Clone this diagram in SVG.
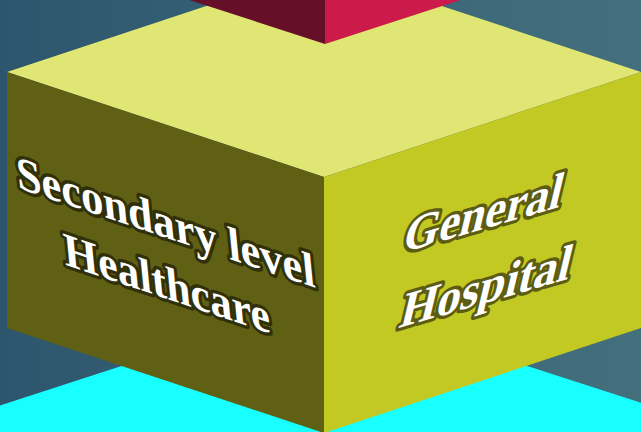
<svg xmlns="http://www.w3.org/2000/svg" width="641" height="432" viewBox="0 0 641 432">
  <defs>
    <linearGradient id="bg" x1="0" y1="0" x2="1" y2="0">
      <stop offset="0" stop-color="#2D566E"/>
      <stop offset="1" stop-color="#44707D"/>
    </linearGradient>
  </defs>
  <style>
    .lbl { font-family: "Liberation Serif", "Times New Roman", serif; font-weight: bold; fill: #ffffff; paint-order: stroke; stroke-linejoin: round; text-anchor: middle; }
    .lt { font-size: 48px; stroke: #30300A; stroke-width: 7px; }
    .rt { font-size: 52px; stroke: #5C5C12; stroke-width: 7px; }
  </style>
  <rect id="background" x="0" y="0" width="641" height="432" fill="url(#bg)"/>
  <g id="cyan-block">
    <polygon points="324,300 700,422 700,440 -60,440 -60,425" fill="#17FFFF"/>
  </g>
  <g id="yellow-block">
    <polygon id="yellow-top" points="324,-33 641,72 324,177 7,72" fill="#E0E673"/>
    <polygon id="yellow-left" points="7,72 324,177 324,433 7,328" fill="#606015"/>
    <polygon id="yellow-right" points="324,177 641,72 641,328 324,433" fill="#C3C923"/>
    <g transform="matrix(1,0.335,0.1,1,167,238)">
      <text class="lbl lt" x="0" y="0" textLength="298" lengthAdjust="spacingAndGlyphs">Secondary level</text>
      <text class="lbl lt" x="-5" y="63" textLength="206" lengthAdjust="spacingAndGlyphs">Healthcare</text>
    </g>
    <g transform="matrix(1,-0.29,-0.24,1,480,230)">
      <text class="lbl rt" x="0" y="0" textLength="158" lengthAdjust="spacingAndGlyphs">General</text>
      <text class="lbl rt" x="22" y="80" textLength="170" lengthAdjust="spacingAndGlyphs">Hospital</text>
    </g>
  </g>
  <g id="red-block">
    <polygon id="red-left" points="325,44 140,-16 140,-60 325,-60" fill="#660F28"/>
    <polygon id="red-right" points="325,44 510,-16 510,-60 325,-60" fill="#CC1A4A"/>
  </g>
</svg>
